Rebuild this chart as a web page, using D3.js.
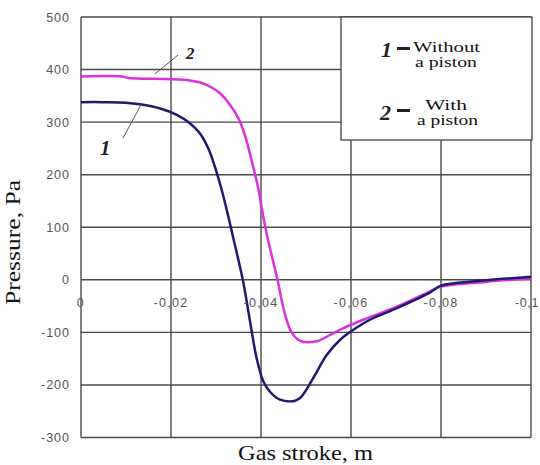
<!DOCTYPE html>
<html>
<head>
<meta charset="utf-8">
<script src="https://cdn.jsdelivr.net/npm/d3@7"></script>
<style>
  html, body { margin: 0; padding: 0; background: #fff; }
  svg { display: block; }
</style>
</head>
<body>
<svg id="chart" width="540" height="465"></svg>
<script>
// Data (gas stroke in m, pressure in Pa)
const strokeWithout = [0, -0.005, -0.010, -0.0131, -0.0176, -0.0213, -0.0242, -0.0264, -0.0283, -0.0298, -0.0313, -0.0327, -0.0338, -0.035, -0.0361, -0.0379, -0.039, -0.0405, -0.042, -0.0442, -0.0476, -0.049, -0.0516, -0.0546, -0.0576, -0.0602, -0.0642, -0.0702, -0.0776, -0.08, -0.09, -0.1];
const pressureWithout = [338, 338, 337, 334, 326, 314, 298, 279, 250, 214, 170, 122, 81, 37, -6, -96, -148, -193, -213, -228, -230, -222, -187, -143, -114, -97, -76, -54, -24, -11, -1, 6];

const strokeWith = [0, -0.009, -0.0105, -0.0235, -0.0279, -0.0309, -0.0331, -0.035, -0.0364, -0.0376, -0.0387, -0.0394, -0.0401, -0.0412, -0.0427, -0.0438, -0.0445, -0.0453, -0.0468, -0.0487, -0.0524, -0.0553, -0.0583, -0.0627, -0.0702, -0.0776, -0.08, -0.09, -0.1];
const pressureWith = [387, 387, 384, 380, 371, 355, 333, 307, 276, 238, 200, 174, 140, 90, 35, -5, -35, -65, -100, -116, -117, -105, -92, -76, -51, -22, -13, -4, 3];

const xTicks = [0, -0.02, -0.04, -0.06, -0.08, -0.1];
const xTickLabels = ["0", "-0,02", "-0,04", "-0,06", "-0,08", "-0,1"];
const yTicks = [500, 400, 300, 200, 100, 0, -100, -200, -300];

(function () {
const svg = d3.select("#chart");
const pL = 81, pR = 531, pT = 17, pB = 437.5;

const x = d3.scaleLinear().domain([0, -0.1]).range([pL, pR]);
const y = d3.scaleLinear().domain([-300, 500]).range([pB, pT]);

const gridColor = "#4a4a4a";
const sans = "'Liberation Sans', Arial, sans-serif";
const serif = "'Liberation Serif', 'Times New Roman', serif";
const g = svg.append("g");

// grid
g.selectAll("line.vg").data(xTicks).enter().append("line")
  .attr("x1", d => x(d)).attr("x2", d => x(d))
  .attr("y1", pT).attr("y2", pB)
  .attr("stroke", gridColor).attr("stroke-width", 1.4);
g.selectAll("line.hg").data(yTicks).enter().append("line")
  .attr("x1", pL).attr("x2", pR)
  .attr("y1", d => y(d)).attr("y2", d => y(d))
  .attr("stroke", gridColor).attr("stroke-width", 1.4);

// y tick labels
g.selectAll("text.yt").data(yTicks).enter().append("text")
  .attr("x", 70).attr("y", d => y(d)).attr("dy", "0.36em")
  .attr("text-anchor", "end")
  .attr("font-family", sans).attr("letter-spacing", 1)
  .attr("font-size", 12.5).attr("fill", "#555")
  .text(d => d);

// curves
const line = d3.line().curve(d3.curveCatmullRom.alpha(0.5));
const pts1 = strokeWithout.map((s, i) => [x(s), y(pressureWithout[i])]);
const pts2 = strokeWith.map((s, i) => [x(s), y(pressureWith[i])]);

g.append("path").attr("d", line(pts2))
  .attr("fill", "none").attr("stroke", "#dd30dd").attr("stroke-width", 2.5);
g.append("path").attr("d", line(pts1))
  .attr("fill", "none").attr("stroke", "#1e1a6e").attr("stroke-width", 2.5);

// x tick labels (inside plot, below zero line)
const lastTick = xTicks.length - 1;
g.selectAll("text.xt").data(xTicks).enter().append("text")
  .attr("x", (d, i) => i === lastTick ? 539 : x(d)).attr("y", y(0) + 27)
  .attr("text-anchor", (d, i) => i === lastTick ? "end" : "middle")
  .attr("font-family", sans).attr("letter-spacing", (d, i) => i === lastTick ? 0.6 : 1.3)
  .attr("font-size", 12.5).attr("fill", "#555")
  .text((d, i) => xTickLabels[i]);

// curve labels with leader lines
g.append("line").attr("x1", 123).attr("y1", 138).attr("x2", 142).attr("y2", 103)
  .attr("stroke", "#555").attr("stroke-width", 1);
g.append("text").attr("x", 100).attr("y", 155)
  .attr("font-family", serif)
  .attr("font-size", 21).attr("font-weight", "bold").attr("font-style", "italic")
  .attr("fill", "#222").text("1");
g.append("line").attr("x1", 155).attr("y1", 74).attr("x2", 178).attr("y2", 55)
  .attr("stroke", "#555").attr("stroke-width", 1);
g.append("text").attr("x", 186).attr("y", 59)
  .attr("font-family", serif)
  .attr("font-size", 17).attr("font-weight", "bold").attr("font-style", "italic")
  .attr("fill", "#222").text("2");

// legend
const lg = svg.append("g");
lg.append("rect").attr("x", 341).attr("y", 17).attr("width", 191).attr("height", 123)
  .attr("fill", "#fff").attr("stroke", "#444").attr("stroke-width", 1.3);
lg.append("text").attr("x", 381).attr("y", 57).attr("font-family", serif)
  .attr("font-size", 22).attr("font-weight", "bold").attr("font-style", "italic")
  .attr("fill", "#222").text("1");
lg.append("rect").attr("x", 397).attr("y", 47).attr("width", 13).attr("height", 3).attr("fill", "#222");
lg.append("text").attr("x", 413).attr("y", 52).attr("font-family", serif)
  .attr("font-size", 15).attr("fill", "#111")
  .attr("textLength", 67).attr("lengthAdjust", "spacingAndGlyphs").text("Without");
lg.append("text").attr("x", 415).attr("y", 67).attr("font-family", serif)
  .attr("font-size", 15).attr("fill", "#111")
  .attr("textLength", 62).attr("lengthAdjust", "spacingAndGlyphs").text("a piston");
lg.append("text").attr("x", 380).attr("y", 120).attr("font-family", serif)
  .attr("font-size", 22).attr("font-weight", "bold").attr("font-style", "italic")
  .attr("fill", "#222").text("2");
lg.append("rect").attr("x", 397).attr("y", 109).attr("width", 13).attr("height", 3).attr("fill", "#222");
lg.append("text").attr("x", 425).attr("y", 110).attr("font-family", serif)
  .attr("font-size", 15).attr("fill", "#111")
  .attr("textLength", 42).attr("lengthAdjust", "spacingAndGlyphs").text("With");
lg.append("text").attr("x", 417).attr("y", 125).attr("font-family", serif)
  .attr("font-size", 15).attr("fill", "#111")
  .attr("textLength", 61).attr("lengthAdjust", "spacingAndGlyphs").text("a piston");

// axis titles
svg.append("text").attr("x", 238).attr("y", 460)
  .attr("font-family", serif).attr("font-size", 21).attr("fill", "#111")
  .attr("textLength", 135).attr("lengthAdjust", "spacingAndGlyphs")
  .text("Gas stroke, m");
svg.append("text").attr("transform", "translate(20,305) rotate(-90)")
  .attr("font-family", serif).attr("font-size", 20).attr("fill", "#111")
  .attr("textLength", 125).attr("lengthAdjust", "spacingAndGlyphs")
  .text("Pressure, Pa");
})();
</script>
</body>
</html>
